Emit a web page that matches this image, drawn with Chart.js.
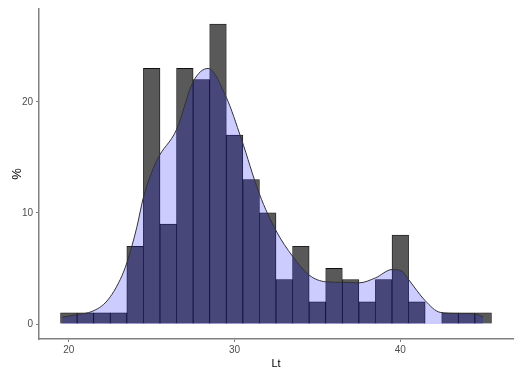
<!DOCTYPE html>
<html>
<head>
<meta charset="utf-8">
<script src="https://cdn.jsdelivr.net/npm/chart.js@4.4.0/dist/chart.umd.min.js"></script>
<style>
  body { margin: 0; background: #fff; }
  #wrap { width: 520px; height: 375px; }
</style>
</head>
<body>
<div id="wrap"><canvas id="chart" width="520" height="375"></canvas></div>
<script>
// histogram bins (centre of each 1-wide bin) and heights in %
const binCentres = [20, 21, 22, 23, 24, 25, 26, 27, 28, 29, 30, 31, 32, 33, 34, 35, 36, 37, 38, 39, 40, 41, 42, 43, 44, 45];
const binPercent = [1, 1, 1, 1, 7, 23, 9, 23, 22, 27, 17, 13, 10, 4, 7, 2, 5, 4, 2, 4, 8, 2, 0, 1, 1, 1];

// density curve
const densX = [19.6, 20.5, 21.4, 22.3, 23.1, 23.5, 24.1, 24.5, 25.3, 26.5, 27.5, 28.4, 29.5, 30.4, 31.5, 32.5, 33.5, 34.5, 35.5, 36.5, 37.5, 38.5, 39.5, 40.1, 40.5, 41.5, 42.4, 43.5, 44.5, 45.0];
const densY = [0.6, 0.85, 1.13, 2.07, 4.0, 5.5, 8.7, 11.4, 14.7, 17.5, 21.8, 23.0, 20.4, 16.7, 11.7, 8.4, 6.1, 4.4, 3.8, 3.75, 3.7, 4.15, 4.9, 4.75, 4.0, 2.1, 1.05, 0.95, 0.9, 0.65];

const xTicks = [20, 30, 40];
const yTicks = [0, 10, 20];

const axisColor = '#808080';
const tickFont = { family: 'Liberation Sans, Arial, sans-serif', size: 10 };

const ctx = document.getElementById('chart').getContext('2d');
new Chart(ctx, {
  data: {
    datasets: [{
      type: 'line',
      label: 'density',
      order: 0,
      data: densX.map((x, i) => ({ x: x, y: densY[i] })),
      borderColor: '#333333',
      borderWidth: 1,
      backgroundColor: 'rgba(0, 0, 255, 0.2)',
      fill: 'origin',
      pointRadius: 0,
      cubicInterpolationMode: 'monotone'
    }, {
      type: 'bar',
      label: 'Lt',
      order: 1,
      data: binCentres.map((x, i) => ({ x: x, y: binPercent[i] })),
      backgroundColor: '#595959',
      borderColor: '#111111',
      borderWidth: 0.8,
      barPercentage: 1,
      categoryPercentage: 1
    }]
  },
  options: {
    responsive: false,
    animation: false,
    devicePixelRatio: 1,
    layout: { padding: { top: 5, right: 7, left: 0, bottom: 0 } },
    plugins: { legend: { display: false }, tooltip: { enabled: false } },
    scales: {
      x: {
        type: 'linear',
        offset: false,
        min: 18.2,
        max: 46.8,
        afterBuildTicks: (scale) => { scale.ticks = xTicks.map(v => ({ value: v })); },
        afterFit: (scale) => { scale.height = 36; },
        grid: { display: true, offset: false, drawOnChartArea: false, drawTicks: true, tickLength: 3, color: axisColor },
        border: { display: true, color: axisColor, width: 1.5 },
        ticks: { color: '#4D4D4D', font: tickFont, padding: 2, maxRotation: 0 },
        title: { display: true, text: 'Lt', color: '#000', font: { family: 'Liberation Sans, Arial, sans-serif', size: 11 }, padding: { top: 0, bottom: 4 } }
      },
      y: {
        min: -1.35,
        max: 28.35,
        afterBuildTicks: (scale) => { scale.ticks = yTicks.map(v => ({ value: v })); },
        afterFit: (scale) => { scale.width = 39; },
        grid: { display: true, drawOnChartArea: false, drawTicks: true, tickLength: 3, color: axisColor },
        border: { display: true, color: axisColor, width: 1.5 },
        ticks: { color: '#4D4D4D', font: tickFont, padding: 3 },
        title: { display: true, text: '%', color: '#000', font: { family: 'Liberation Sans, Arial, sans-serif', size: 13 }, padding: { top: 10, bottom: 0 } }
      }
    }
  }
});
</script>
</body>
</html>
